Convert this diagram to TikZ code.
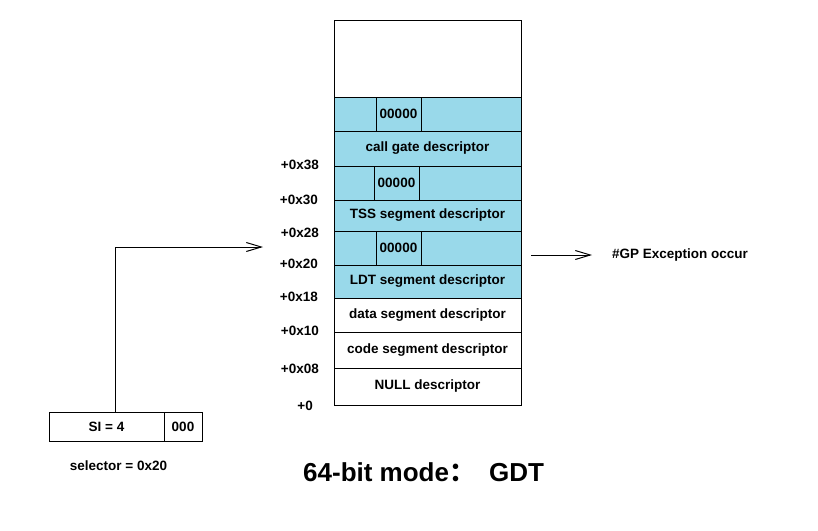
\documentclass[tikz,border=0pt]{standalone}
\usepackage{fontspec}
\setmainfont{Liberation Sans}
\newfontfamily\cjk{Noto Sans CJK SC}
\usetikzlibrary{arrows.meta}
\definecolor{gdtblue}{RGB}{153,217,234}
\tikzset{
  row/.style={draw, line width=1pt, minimum width=187pt, inner sep=0pt, font=\bfseries\fontsize{13.5}{15}\selectfont},
  zero/.style={draw, line width=1pt, minimum width=45pt, inner sep=0pt, font=\bfseries\fontsize{13.5}{15}\selectfont},
  off/.style={anchor=east, inner sep=0pt, font=\bfseries\fontsize{13.5}{15}\selectfont},
  txt/.style={inner sep=0pt, font=\bfseries\fontsize{13.5}{15}\selectfont},
  ptr/.style={line width=1pt, -{Straight Barb[length=15pt,width=9pt]}},
}

\begin{document}
\begin{tikzpicture}[x=1pt,y=-1pt]
        \useasboundingbox (0,0) rectangle (818,530);
        \node[row, minimum height=77pt] (top) at (427.5,58.5) {};
        \node[row, fill=gdtblue, minimum height=34pt] (cg0) at (427.5,114) {};
        \node[zero, minimum height=34pt] (cgz) at (398.5,114) {00000};
        \node[row, fill=gdtblue, minimum height=35pt] (cg) at (427.5,148.5) {call gate descriptor};
        \node[row, fill=gdtblue, minimum height=34pt] (tss0) at (427.5,183) {};
        \node[zero, minimum height=34pt] (tssz) at (396.5,183) {00000};
        \node[row, fill=gdtblue, minimum height=31pt] (tss) at (427.5,215.5) {TSS segment descriptor};
        \node[row, fill=gdtblue, minimum height=34pt] (ldt0) at (427.5,248) {};
        \node[zero, minimum height=34pt] (ldtz) at (398.5,248) {00000};
        \node[row, fill=gdtblue, minimum height=33pt] (ldt) at (427.5,281.5) {LDT segment descriptor};
        \node[row, minimum height=34pt] (data) at (427.5,315) {data segment descriptor};
        \node[row, minimum height=36pt] (code) at (427.5,350) {code segment descriptor};
        \node[row, minimum height=37pt] (null) at (427.5,386.5) {NULL descriptor};

        \node[off] (o38) at (319,165) {+0x38};
        \node[off] (o30) at (318,200) {+0x30};
        \node[off] (o28) at (319,233) {+0x28};
        \node[off] (o20) at (318,264) {+0x20};
        \node[off] (o18) at (318,297) {+0x18};
        \node[off] (o10) at (319,331) {+0x10};
        \node[off] (o08) at (319,369) {+0x08};
        \node[off] (o0) at (313,406) {+0};

        \node[draw, line width=1pt, minimum width=115pt, minimum height=29pt, txt] (si) at (106.5,426.5) {SI = 4};
        \node[draw, line width=1pt, minimum width=38pt, minimum height=29pt, txt] (rpl) at (183,426.5) {000};
        \node[txt] (sel) at (118.5,466) {selector = 0x20};

        \coordinate (entry) at (263,247);
        \draw[ptr] ([xshift=8.5pt]si.north) |- (entry);

        \node[txt, anchor=west] (gp) at (612,255) {\#GP Exception occur};
        \coordinate (gpfrom) at (531,255);
        \draw[ptr] (gpfrom) -- ([xshift=-20pt]gp.west);

        \node[inner sep=0pt, anchor=west, font=\bfseries\fontsize{26}{30}\selectfont] (title) at (303,472) {64-bit mode{\cjk ：}\hspace{14pt}GDT};
\end{tikzpicture}
\end{document}
